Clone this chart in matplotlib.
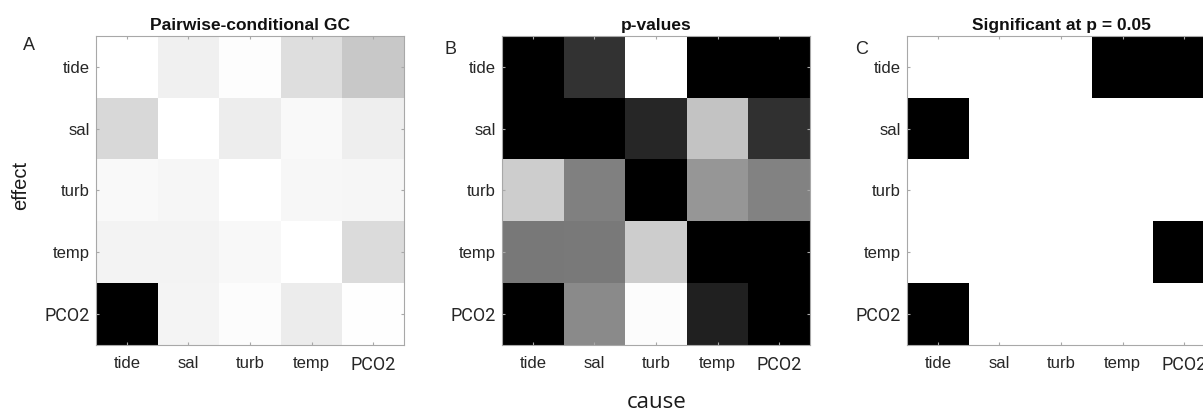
import matplotlib
matplotlib.use("Agg")
import matplotlib.pyplot as plt
import numpy as np

variables = ["tide", "sal", "turb", "temp", "PCO2"]

# Pairwise-conditional GC (rows = effect, cols = cause), normalized to max
gc_tide = [0.000, 0.059, 0.008, 0.129, 0.216]
gc_sal = [0.153, 0.000, 0.071, 0.024, 0.067]
gc_turb = [0.024, 0.039, 0.000, 0.035, 0.039]
gc_temp = [0.047, 0.047, 0.031, 0.000, 0.141]
gc_pco2 = [1.000, 0.043, 0.012, 0.075, 0.004]

# p-values (normalized to max)
p_tide = [0.000, 0.196, 1.000, 0.000, 0.000]
p_sal = [0.000, 0.000, 0.149, 0.765, 0.188]
p_turb = [0.804, 0.502, 0.000, 0.588, 0.510]
p_temp = [0.471, 0.478, 0.804, 0.000, 0.000]
p_pco2 = [0.000, 0.541, 0.988, 0.129, 0.000]

# significance at p = 0.05
sig_tide = [0, 0, 0, 1, 1]
sig_sal = [1, 0, 0, 0, 0]
sig_turb = [0, 0, 0, 0, 0]
sig_temp = [0, 0, 0, 0, 1]
sig_pco2 = [1, 0, 0, 0, 0]

titles = ["Pairwise-conditional GC", "p-values", "Significant at p = 0.05"]
panel_letters = ["A", "B", "C"]

gc = np.array([gc_tide, gc_sal, gc_turb, gc_temp, gc_pco2])
pv = np.array([p_tide, p_sal, p_turb, p_temp, p_pco2])
sig = np.array([sig_tide, sig_sal, sig_turb, sig_temp, sig_pco2])

W, H = 1203, 411
fig = plt.figure(figsize=(W / 100, H / 100), dpi=100)

lefts = [96, 502, 907]
top, bottom = 36, 345
wpx = 308
mats = [(gc, "gray_r", 0, 1), (pv, "gray", 0, 1), (sig, "gray_r", 0, 1)]
letter_pos = [(23, 37), (444, 41), (855, 41)]

spine_col = "#a8a8a8"
label_col = "#262626"

for i in range(3):
    ax = fig.add_axes([lefts[i] / W, 1 - bottom / H, wpx / W, (bottom - top) / H])
    m, cmap, vmin, vmax = mats[i]
    ax.imshow(m, cmap=cmap, vmin=vmin, vmax=vmax, aspect="auto",
              interpolation="nearest")
    ax.set_xticks(range(5))
    ax.set_yticks(range(5))
    ax.set_xticklabels(variables)
    ax.set_yticklabels(variables)
    for lbl in ax.get_xticklabels() + ax.get_yticklabels():
        lbl.set_fontfamily("Liberation Sans")
        lbl.set_fontsize(12)
        lbl.set_color(label_col)
        if lbl.get_text() == "PCO2":
            lbl.set_fontfamily("Roboto")
            lbl.set_fontsize(13)
    ax.tick_params(axis="both", direction="in", length=2.5, width=0.8,
                   colors=spine_col, labelcolor=label_col,
                   top=True, right=True)
    ax.tick_params(axis="x", pad=8)
    ax.tick_params(axis="y", pad=4.5)
    for s in ax.spines.values():
        s.set_color(spine_col)
        s.set_linewidth(0.8)
    ax.set_title(titles[i], fontsize=12.5, fontweight="bold",
                 family="Liberation Sans", pad=4, color="#111111")
    lx, ly = letter_pos[i]
    fig.text(lx / W, 1 - ly / H, panel_letters[i], ha="left", va="top",
             fontsize=13, family="Liberation Sans", color=label_col)

fig.text(21 / W, 1 - 185 / H, "effect", rotation=90, ha="center", va="center",
         fontsize=14.5, family="Liberation Sans", color="#1a1a1a")
fig.text(657 / W, 1 - 402 / H, "cause", ha="center", va="center",
         fontsize=16, family="Open Sans", color="#1a1a1a")

fig.savefig("out.png", dpi=100)
